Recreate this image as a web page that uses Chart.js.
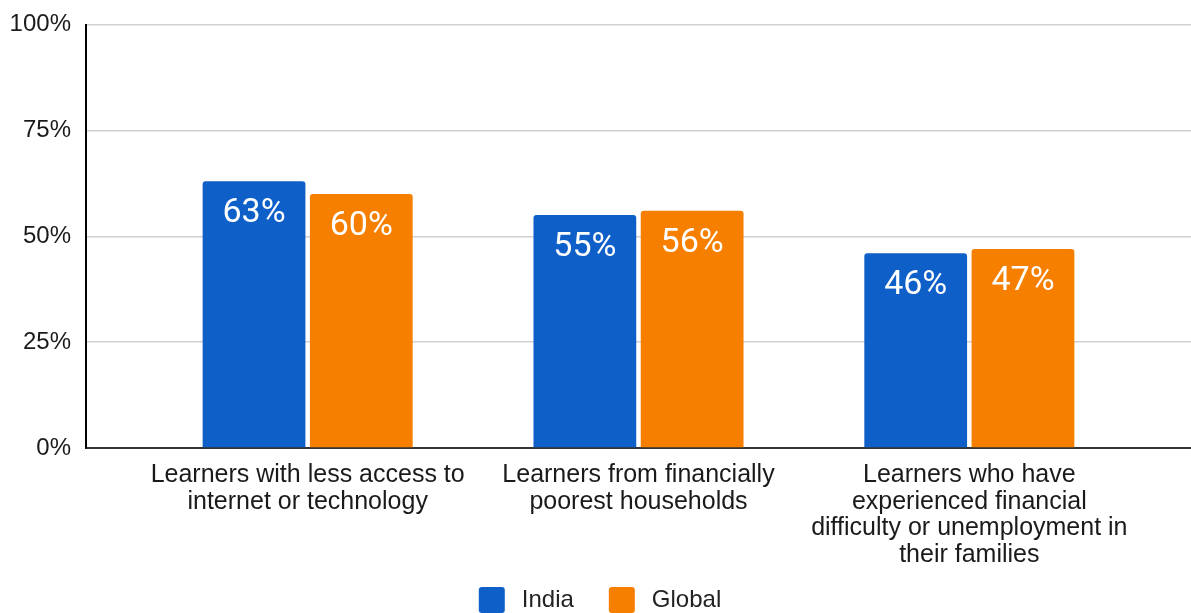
<!DOCTYPE html>
<html>
<head>
<meta charset="utf-8">
<title>Learners affected: India vs Global</title>
<script src="https://cdn.jsdelivr.net/npm/chart.js@4/dist/chart.umd.min.js"></script>
<style>
  html, body { margin: 0; padding: 0; background: #ffffff; }
  #wrap { width: 1191px; height: 613px; position: relative; }
</style>
</head>
<body>
<div id="wrap"><canvas id="chart" width="1191" height="613"></canvas></div>
<script>
// Category labels, one line per entry
const categories = [
  ["Learners with less access to", "internet or technology"],
  ["Learners from financially", "poorest households"],
  ["Learners who have", "experienced financial", "difficulty or unemployment in", "their families"]
];
const seriesNames = ["India", "Global"];
const indiaValues = [63, 55, 46];
const globalValues = [60, 56, 47];
const yTickValues = [0, 25, 50, 75, 100];

const INDIA_COLOR = "#0f5fc8";
const GLOBAL_COLOR = "#f77f00";
const AXIS_FONT = "'Liberation Sans', Arial, Helvetica, sans-serif";

// Writes each bar's percentage in white just inside its top edge
const barValueLabels = {
  id: "barValueLabels",
  afterDatasetsDraw(chart) {
    const ctx = chart.ctx;
    ctx.save();
    ctx.fillStyle = "#ffffff";
    ctx.font = "400 34px Roboto, 'Open Sans', sans-serif";
    ctx.textAlign = "center";
    ctx.textBaseline = "alphabetic";
    chart.data.datasets.forEach((ds, di) => {
      const meta = chart.getDatasetMeta(di);
      meta.data.forEach((bar, i) => {
        ctx.fillText(ds.data[i].y + "%", bar.x, bar.y + 41);
      });
    });
    ctx.restore();
  }
};

// Centered legend row under the axis: rounded colour square, then series name
const bottomLegend = {
  id: "bottomLegend",
  afterDraw(chart) {
    const ctx = chart.ctx;
    const box = 26, textGap = 17, itemGap = 35, boxTop = 587;
    ctx.save();
    ctx.font = "24px " + AXIS_FONT;
    const items = chart.data.datasets.map((ds) => ({
      label: ds.label,
      color: ds.backgroundColor,
      w: ctx.measureText(ds.label).width
    }));
    const total = items.reduce((s, it) => s + box + textGap + it.w, 0) + itemGap * (items.length - 1);
    let x = (chart.width + 9) / 2 - total / 2;
    items.forEach((it) => {
      ctx.fillStyle = it.color;
      ctx.beginPath();
      ctx.roundRect(x, boxTop, box, box, 3);
      ctx.fill();
      ctx.fillStyle = "#222222";
      ctx.textAlign = "left";
      ctx.textBaseline = "middle";
      ctx.fillText(it.label, x + box + textGap, boxTop + box / 2);
      x += box + textGap + it.w + itemGap;
    });
    ctx.restore();
  }
};

const toPoints = (values) => values.map((v, i) => ({ x: i, y: v }));

new Chart(document.getElementById("chart"), {
  type: "bar",
  data: {
    datasets: [
      {
        label: seriesNames[0],
        data: toPoints(indiaValues),
        backgroundColor: INDIA_COLOR,
        borderWidth: 0,
        borderRadius: { topLeft: 3, topRight: 3 },
        borderSkipped: "start"
      },
      {
        label: seriesNames[1],
        data: toPoints(globalValues),
        backgroundColor: GLOBAL_COLOR,
        borderWidth: 0,
        borderRadius: { topLeft: 3, topRight: 3 },
        borderSkipped: "start"
      }
    ]
  },
  options: {
    responsive: false,
    animation: false,
    devicePixelRatio: 1,
    categoryPercentage: 0.6485,
    barPercentage: 0.958,
    layout: { padding: { top: 0, left: 9.3, right: 0, bottom: 44.5 } },
    plugins: {
      tooltip: { enabled: false },
      legend: { display: false }
    },
    scales: {
      x: {
        type: "linear",
        offset: false,
        min: -0.67,
        max: 2.67,
        grid: { display: false, drawTicks: false, offset: false },
        border: { display: true, color: "#333333", width: 2 },
        afterBuildTicks: (scale) => {
          scale.ticks = categories.map((_, i) => ({ value: i }));
        },
        afterFit: (scale) => {
          scale.paddingLeft = 0;
          scale.paddingRight = 0;
          scale.height = 120.5;
        },
        ticks: {
          autoSkip: false,
          maxRotation: 0,
          minRotation: 0,
          padding: 13.5,
          color: "#1a1a1a",
          font: { family: AXIS_FONT, size: 25, lineHeight: 1.07 },
          callback: (value) => categories[value] || ""
        }
      },
      y: {
        min: 0,
        max: 100,
        afterBuildTicks: (scale) => {
          scale.ticks = yTickValues.map((v) => ({ value: v }));
        },
        afterFit: (scale) => {
          scale.width = 76.7;
          scale.paddingTop = 24.5;
          scale.paddingBottom = 0;
        },
        grid: { color: "#d0d0d0", lineWidth: 1.5, drawTicks: false },
        border: { display: true, color: "#000000", width: 2 },
        ticks: {
          padding: 15,
          color: "#1a1a1a",
          font: { family: AXIS_FONT, size: 24 },
          callback: (v) => v + "%"
        }
      }
    }
  },
  plugins: [barValueLabels, bottomLegend]
});
</script>
</body>
</html>
